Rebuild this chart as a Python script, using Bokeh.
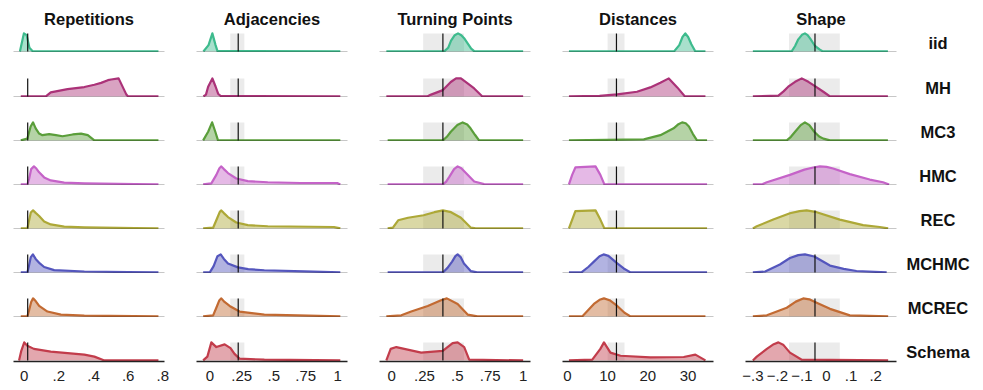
from bokeh.plotting import figure
from bokeh.layouts import gridplot
from bokeh.models import Range1d, FixedTicker, BoxAnnotation
from bokeh.embed import file_html
from bokeh.resources import INLINE
from bokeh.core.properties import value

samplers = ["iid", "MH", "MC3", "HMC", "REC", "MCHMC", "MCREC", "Schema"]
sampler_colors = ["#3dbb8d", "#ab3278", "#5a9e3a", "#c563c8", "#ada837", "#5456bd", "#c26a32", "#c23c4b"]
statistics = ["Repetitions", "Adjacencies", "Turning Points", "Distances", "Shape"]

x_limits = [(-0.062, 0.81), (-0.104, 1.076), (-0.092, 1.056), (-1.2, 36.3), (-0.33, 0.285)]
ref_values = [0.02, 0.222, 0.39, 12.2, -0.047]
ref_bands = [None, (0.16, 0.27), (0.24, 0.55), (10.0, 14.2), (-0.153, 0.054)]
tick_values = [[0, 0.2, 0.4, 0.6, 0.8], [0, 0.25, 0.5, 0.75, 1], [0, 0.25, 0.5, 0.75, 1],
               [0, 10, 20, 30], [-0.3, -0.2, -0.1, 0, 0.1, 0.2]]
tick_labels = [["0", ".2", ".4", ".6", ".8"], ["0", ".25", ".5", ".75", "1"], ["0", ".25", ".5", ".75", "1"],
               ["0", "10", "20", "30"], ["\u2212.3", "\u2212.2", "\u2212.1", "0", ".1", ".2"]]

# normalised densities (peak = 1), one list per sampler, in sampler order
repetitions_x = [
    [-0.025, -0.002, 0.014, 0.03, 0.05, 0.775],
    [-0.02, 0.125, 0.153, 0.25, 0.347, 0.405, 0.444, 0.483, 0.502, 0.545, 0.59, 0.6, 0.775],
    [-0.02, 0.018, 0.037, 0.051, 0.066, 0.086, 0.105, 0.144, 0.183, 0.221, 0.28, 0.328, 0.367, 0.405, 0.775],
    [-0.02, 0.018, 0.028, 0.04, 0.056, 0.07, 0.086, 0.115, 0.153, 0.231, 0.347, 0.64, 0.775],
    [-0.02, 0.018, 0.026, 0.038, 0.051, 0.066, 0.086, 0.115, 0.153, 0.231, 0.347, 0.64, 0.775],
    [-0.02, 0.018, 0.027, 0.038, 0.05, 0.066, 0.09, 0.115, 0.173, 0.347, 0.6, 0.775],
    [-0.02, 0.018, 0.027, 0.04, 0.051, 0.066, 0.086, 0.134, 0.212, 0.347, 0.775],
    [-0.03, -0.017, 0.0, 0.018, 0.056, 0.153, 0.25, 0.347, 0.405, 0.463, 0.775],
]
repetitions_y = [
    [0, 1.0, 0.9, 0.2, 0, 0],
    [0, 0, 0.22, 0.4, 0.52, 0.65, 0.75, 0.9, 0.94, 1.0, 0.1, 0, 0],
    [0, 0.1, 0.77, 1.0, 0.67, 0.38, 0.29, 0.35, 0.29, 0.23, 0.33, 0.38, 0.29, 0, 0],
    [0, 0, 0.3, 0.85, 1.0, 0.88, 0.67, 0.39, 0.22, 0.1, 0.06, 0.02, 0],
    [0, 0, 0.35, 0.88, 1.0, 0.86, 0.69, 0.39, 0.22, 0.1, 0.06, 0.02, 0],
    [0, 0, 0.35, 0.85, 1.0, 0.75, 0.5, 0.3, 0.13, 0.05, 0.02, 0],
    [0, 0, 0.3, 0.8, 1.0, 0.85, 0.58, 0.27, 0.1, 0.04, 0],
    [0, 0.53, 1.0, 0.81, 0.64, 0.49, 0.4, 0.32, 0.21, 0, 0],
]
adjacencies_x = [
    [-0.05, -0.01, 0.02, 0.045, 0.06, 1.02],
    [-0.05, -0.03, -0.013, 0.02, 0.045, 0.065, 0.085, 1.02],
    [-0.052, -0.013, 0.018, 0.043, 0.064, 1.02],
    [-0.052, 0.012, 0.051, 0.075, 0.09, 0.11, 0.142, 0.207, 0.297, 0.453, 0.71, 0.996, 1.02],
    [-0.052, 0.026, 0.059, 0.078, 0.09, 0.11, 0.142, 0.207, 0.297, 0.453, 0.97, 1.02],
    [-0.052, 0.0, 0.03, 0.06, 0.085, 0.11, 0.142, 0.22, 0.30, 0.426, 0.737, 1.02],
    [-0.052, 0.026, 0.051, 0.075, 0.09, 0.115, 0.155, 0.232, 0.426, 0.686, 1.02],
    [-0.052, -0.019, 0.012, 0.051, 0.116, 0.162, 0.193, 0.232, 0.426, 1.02],
]
adjacencies_y = [
    [0, 0.35, 1.0, 0.35, 0.02, 0],
    [0, 0.1, 0.54, 1.0, 0.55, 0.15, 0.02, 0],
    [0, 0.48, 1.0, 0.48, 0, 0],
    [0, 0.06, 0.53, 0.9, 1.0, 0.85, 0.63, 0.33, 0.18, 0.12, 0.08, 0.08, 0],
    [0, 0.04, 0.59, 0.92, 1.0, 0.85, 0.63, 0.33, 0.18, 0.12, 0.08, 0],
    [0, 0, 0.35, 0.9, 1.0, 0.75, 0.5, 0.28, 0.18, 0.12, 0.06, 0],
    [0, 0.06, 0.48, 0.9, 1.0, 0.8, 0.58, 0.27, 0.1, 0.06, 0],
    [0, 0.21, 1.0, 0.74, 0.89, 0.68, 0.36, 0.1, 0.04, 0],
]
turning_x = [
    [-0.04, 0.40, 0.43, 0.452, 0.48, 0.505, 0.53, 0.555, 0.578, 0.605, 0.63, 1.0],
    [-0.04, 0.27, 0.3, 0.39, 0.45, 0.49, 0.527, 0.578, 0.628, 0.69, 1.0],
    [-0.03, 0.39, 0.42, 0.45, 0.5, 0.54, 0.575, 0.6, 0.635, 0.665, 1.0],
    [-0.03, 0.39, 0.415, 0.44, 0.475, 0.502, 0.53, 0.565, 0.628, 0.703, 1.0],
    [-0.03, 0.01, 0.05, 0.125, 0.243, 0.325, 0.39, 0.452, 0.527, 0.603, 0.64, 1.0],
    [-0.03, 0.39, 0.425, 0.46, 0.485, 0.502, 0.525, 0.55, 0.603, 0.65, 1.0],
    [-0.04, 0.074, 0.149, 0.275, 0.376, 0.42, 0.502, 0.578, 0.653, 1.0],
    [-0.04, -0.007, 0.036, 0.225, 0.389, 0.464, 0.502, 0.552, 0.59, 1.0],
]
turning_y = [
    [0, 0, 0.2, 0.6, 0.9, 1.0, 0.9, 0.7, 0.45, 0.15, 0, 0],
    [0, 0, 0.1, 0.35, 0.8, 1.0, 1.0, 0.72, 0.44, 0.0, 0],
    [0, 0, 0.2, 0.48, 0.85, 1.0, 0.88, 0.67, 0.3, 0, 0],
    [0, 0, 0.15, 0.43, 0.85, 1.0, 0.9, 0.63, 0.16, 0.02, 0],
    [0, 0.04, 0.45, 0.59, 0.73, 0.9, 1.0, 0.9, 0.59, 0.04, 0, 0],
    [0, 0, 0.25, 0.6, 0.9, 1.0, 0.85, 0.5, 0.07, 0, 0],
    [0, 0.06, 0.27, 0.58, 0.9, 1.0, 0.69, 0.1, 0, 0],
    [0, 0.64, 0.74, 0.43, 0.53, 0.96, 1.0, 0.74, 0.04, 0],
]
distances_x = [
    [0.4, 26.5, 27.8, 28.6, 29.3, 30.0, 30.8, 31.8, 34.3],
    [0.4, 8, 12.4, 17.3, 20.6, 23.1, 25.2, 27.3, 29.2, 34.3],
    [0.4, 19, 23.1, 26.4, 27.6, 28.5, 29.4, 30.2, 31.2, 32.2, 34.7],
    [0.4, 1.2, 2.0, 7.0, 8.2, 9.2, 34.7],
    [0.4, 2.0, 7.0, 8.2, 9.2, 34.7],
    [0.4, 3.5, 5.2, 6.6, 8.0, 9.0, 10.2, 12.4, 14.0, 15.7, 34.7],
    [0.4, 3.7, 5.2, 6.6, 8.0, 9.1, 10.5, 12.4, 14.2, 15.7, 34.3],
    [0.4, 6.2, 8.2, 9.1, 10.7, 13.2, 20.6, 28.9, 31.8, 34.3],
]
distances_y = [
    [0, 0, 0.35, 0.8, 1.0, 0.8, 0.4, 0, 0],
    [0, 0.03, 0.11, 0.26, 0.5, 0.76, 1.0, 0.5, 0, 0],
    [0, 0.06, 0.29, 0.67, 0.9, 1.0, 0.95, 0.77, 0.35, 0, 0],
    [0, 0.53, 0.94, 1.0, 0.53, 0, 0],
    [0, 0.96, 1.0, 0.49, 0, 0],
    [0, 0, 0.3, 0.6, 0.9, 1.0, 0.92, 0.5, 0.22, 0, 0],
    [0, 0, 0.35, 0.69, 0.92, 1.0, 0.9, 0.58, 0.2, 0, 0],
    [0, 0.04, 0.64, 1.0, 0.43, 0.26, 0.17, 0.19, 0.32, 0],
]
shape_x = [
    [-0.30, -0.142, -0.128, -0.115, -0.1, -0.088, -0.077, -0.067, -0.047, -0.027, -0.015, 0.25],
    [-0.30, -0.196, -0.175, -0.156, -0.128, -0.101, -0.074, -0.047, -0.013, 0.014, 0.25],
    [-0.30, -0.162, -0.145, -0.128, -0.105, -0.088, -0.07, -0.05, -0.03, -0.013, 0.014, 0.25],
    [-0.30, -0.26, -0.243, -0.149, -0.09, -0.054, -0.027, 0.0, 0.027, 0.095, 0.176, 0.23, 0.255],
    [-0.30, -0.284, -0.217, -0.149, -0.11, -0.081, -0.04, 0.054, 0.149, 0.217, 0.251],
    [-0.30, -0.25, -0.19, -0.149, -0.115, -0.088, -0.05, 0.014, 0.07, 0.122, 0.245],
    [-0.30, -0.243, -0.162, -0.125, -0.095, -0.07, -0.047, 0.014, 0.095, 0.251],
    [-0.30, -0.284, -0.243, -0.215, -0.196, -0.175, -0.149, -0.101, 0.251],
]
shape_y = [
    [0, 0, 0.3, 0.67, 0.92, 1.0, 0.9, 0.72, 0.3, 0.1, 0, 0],
    [0, 0.04, 0.28, 0.54, 0.81, 1.0, 0.81, 0.57, 0.26, 0, 0],
    [0, 0, 0.2, 0.48, 0.85, 1.0, 0.85, 0.48, 0.22, 0.1, 0, 0],
    [0, 0.02, 0.12, 0.53, 0.82, 0.94, 1.0, 0.97, 0.88, 0.57, 0.27, 0.12, 0],
    [0, 0.12, 0.49, 0.84, 0.96, 1.0, 0.9, 0.49, 0.18, 0.08, 0],
    [0, 0.05, 0.44, 0.8, 0.96, 1.0, 0.88, 0.38, 0.2, 0.08, 0],
    [0, 0.06, 0.48, 0.82, 1.0, 0.95, 0.8, 0.42, 0.06, 0],
    [0, 0.21, 0.64, 0.9, 1.0, 0.85, 0.43, 0.04, 0],
]

curves_x = [repetitions_x, adjacencies_x, turning_x, distances_x, shape_x]
curves_y = [repetitions_y, adjacencies_y, turning_y, distances_y, shape_y]

FONT = "Liberation Sans"
Y_RANGE = (-0.06, 1.16)
n_rows = len(samplers)


def top_border(r):
    if r == 0:
        return 30
    return 23 if r == 1 else 22


rows = []
for r, sampler in enumerate(samplers):
    row = []
    for c, stat in enumerate(statistics):
        p = figure(frame_width=151, frame_height=22,
                   x_range=Range1d(*x_limits[c]), y_range=Range1d(*Y_RANGE),
                   toolbar_location=None, output_backend="svg",
                   y_axis_location=None, x_axis_location="below",
                   min_border_left=(13 if c == 0 else 5), min_border_right=(4 if c == 4 else 27),
                   min_border_top=top_border(r), min_border_bottom=0,
                   outline_line_color=None)
        if r == 0:
            p.title.text = stat
            p.title.align = "center"
            p.title.text_font = FONT
            p.title.text_font_size = "16.5px"
            p.title.text_font_style = "bold"
            p.title.text_color = "#111111"
            p.title.standoff = 6
        p.xgrid.visible = False
        p.ygrid.visible = False
        ax = p.xaxis[0]
        ax.axis_line_color = "#222222"
        ax.axis_line_width = 1.3
        ax.major_tick_line_color = None
        ax.minor_tick_line_color = None
        ax.major_tick_out = 0
        ax.major_tick_in = 0
        ax.minor_tick_out = 0
        ax.minor_tick_in = 0
        if r == n_rows - 1:
            ax.ticker = FixedTicker(ticks=tick_values[c])
            ax.major_label_overrides = {v: l for v, l in zip(tick_values[c], tick_labels[c])}
            ax.major_label_text_font = FONT
            ax.major_label_text_font_size = "15px"
            ax.major_label_text_color = "#222222"
            ax.major_label_standoff = 9
        else:
            ax.ticker = FixedTicker(ticks=[])
            ax.major_label_standoff = 0

        band = ref_bands[c]
        if band is not None:
            p.add_layout(BoxAnnotation(left=band[0], right=band[1], bottom=0, top=1,
                                       fill_color="#ebebeb", fill_alpha=1.0, line_color=None,
                                       level="underlay"))
        col = sampler_colors[r]
        xs = curves_x[c][r]
        ys = curves_y[c][r]
        p.varea(x=xs, y1=[0] * len(xs), y2=ys, fill_color=col, fill_alpha=0.45)
        p.line(x=xs, y=ys, line_color=col, line_width=2.2, line_join="round")
        p.segment(x0=[ref_values[c]], y0=[0], x1=[ref_values[c]], y1=[1],
                  line_color="#111111", line_width=1.2)
        row.append(p)

    lp = figure(frame_width=75, frame_height=22,
                x_range=Range1d(0, 1), y_range=Range1d(*Y_RANGE),
                toolbar_location=None, output_backend="svg",
                x_axis_location=None, y_axis_location=None,
                min_border_left=0, min_border_right=0,
                min_border_top=top_border(r), min_border_bottom=0,
                outline_line_color=None)
    lp.xgrid.visible = False
    lp.ygrid.visible = False
    lp.text(x=[0.5], y=[0.45], text=[sampler], text_align="center", text_baseline="middle",
            text_font=value(FONT), text_font_style="bold", text_font_size="16.5px",
            text_color="#111111")
    row.append(lp)
    rows.append(row)

grid = gridplot(rows, toolbar_location=None)

open("out.html", "w").write(file_html(grid, INLINE))
